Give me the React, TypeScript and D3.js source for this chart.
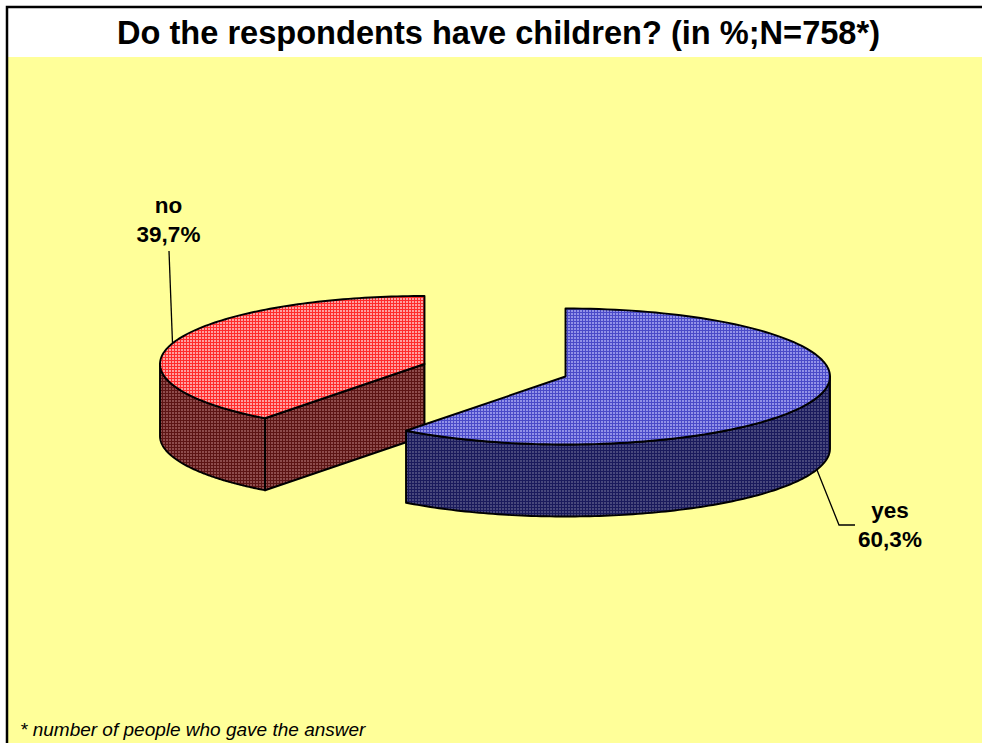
import React from "react";
import * as d3 from "d3";

// Survey answers, in percent
const answers = ["yes", "no"];
const shares = [60.3, 39.7];
const shareLabels = ["60,3%", "39,7%"];
const topColors = ["#4a4ac8", "#ff2c2c"];
const dotColors = ["#9292e8", "#ffa0a0"];
const sideColors = ["#1a1a5c", "#5c1414"];
const sideDots = ["#48487c", "#8e4c4c"];

const WIDTH = 982;
const HEIGHT = 743;
const RX = 264.5;
const RY = 68;
const DEPTH = 72;
const FONT = "'Liberation Sans', Arial, sans-serif";

// Each slice is pulled away from the other, so it has its own apex
const apexes: [number, number][] = [
  [565.5, 376.5],
  [424.5, 364],
];

const slices = d3
  .pie<number>()
  .sort(null)
  .value((d) => d)(shares);

// Maps a pie angle (clockwise from twelve o'clock) onto the tilted disc
function project(i: number, angle: number, drop = 0): [number, number] {
  const x = d3.scaleLinear().domain([-1, 1]).range([apexes[i][0] - RX, apexes[i][0] + RX]);
  const y = d3.scaleLinear().domain([-1, 1]).range([apexes[i][1] - RY, apexes[i][1] + RY]);
  return [x(Math.sin(angle)), y(-Math.cos(angle)) + drop];
}

const line = d3.line<[number, number]>();

function rim(i: number, from: number, to: number, drop = 0): [number, number][] {
  const n = 120;
  return d3.range(n + 1).map((k) => project(i, from + ((to - from) * k) / n, drop));
}

function topPath(i: number): string {
  const s = slices[i];
  return line([apexes[i], ...rim(i, s.startAngle, s.endAngle)]) + "Z";
}

// Outer wall: the part of the rim that faces the viewer, between two angles
function wallPath(i: number, from: number, to: number): string {
  return line([...rim(i, from, to), ...rim(i, to, from, DEPTH)]) + "Z";
}

// Flat wall along the cut that runs from the apex to the rim
function cutPath(i: number, angle: number): string {
  const a = apexes[i];
  return line([a, project(i, angle), project(i, angle, DEPTH), [a[0], a[1] + DEPTH]]) + "Z";
}

function Weave({ id, base, dot }: { id: string; base: string; dot: string }) {
  return (
    <pattern id={id} width={3} height={3} patternUnits="userSpaceOnUse">
      <rect width={3} height={3} fill={base} />
      <rect x={1} y={1} width={2} height={2} fill={dot} />
    </pattern>
  );
}

export default function App() {
  const blue = slices[0];
  const red = slices[1];
  const labelStyle = { fontFamily: FONT, fontWeight: 700, fontSize: 22.5, textAnchor: "middle" as const };
  return (
    <svg
      width={WIDTH}
      height={HEIGHT}
      viewBox={`0 0 ${WIDTH} ${HEIGHT}`}
      style={{ position: "absolute", left: 0, top: 0, display: "block" }}
    >
      <defs>
        {answers.map((a, i) => (
          <React.Fragment key={a}>
            <Weave id={`top-${a}`} base={topColors[i]} dot={dotColors[i]} />
            <Weave id={`side-${a}`} base={sideColors[i]} dot={sideDots[i]} />
          </React.Fragment>
        ))}
      </defs>

      <rect width={WIDTH} height={HEIGHT} fill="#ffffff" />
      <rect x={7} y={57} width={WIDTH - 7} height={HEIGHT - 57} fill="#ffff99" />
      <path d={`M7,${HEIGHT}V7H${WIDTH}`} fill="none" stroke="#000" strokeWidth={2.5} />

      <text
        x={498.5}
        y={44}
        textAnchor="middle"
        fontFamily={FONT}
        fontWeight={700}
        fontSize={32.6}
        fill="#000"
      >
        Do the respondents have children? (in %;N=758*)
      </text>

      <g stroke="#000" strokeWidth={1.9} strokeLinejoin="round">
        <path d={wallPath(1, red.startAngle, Math.PI * 1.5)} fill="url(#side-no)" />
        <path d={cutPath(1, red.startAngle)} fill="url(#side-no)" />
        <path d={topPath(1)} fill="url(#top-no)" />
        <path d={wallPath(0, Math.PI / 2, blue.endAngle)} fill="url(#side-yes)" />
        <path d={topPath(0)} fill="url(#top-yes)" />
      </g>

      <g fill="none" stroke="#000" strokeWidth={1.3}>
        <path d="M169,251L172.5,343" />
        <path d="M817,470L839,525H855" />
      </g>

      <g style={labelStyle} fill="#000">
        <text x={168.5} y={213}>{answers[1]}</text>
        <text x={168.5} y={242}>{shareLabels[1]}</text>
        <text x={890} y={518}>{answers[0]}</text>
        <text x={890} y={547}>{shareLabels[0]}</text>
      </g>

      <text x={20} y={736} fontFamily={FONT} fontStyle="italic" fontSize={19} fill="#000">
        * number of people who gave the answer
      </text>
    </svg>
  );
}
